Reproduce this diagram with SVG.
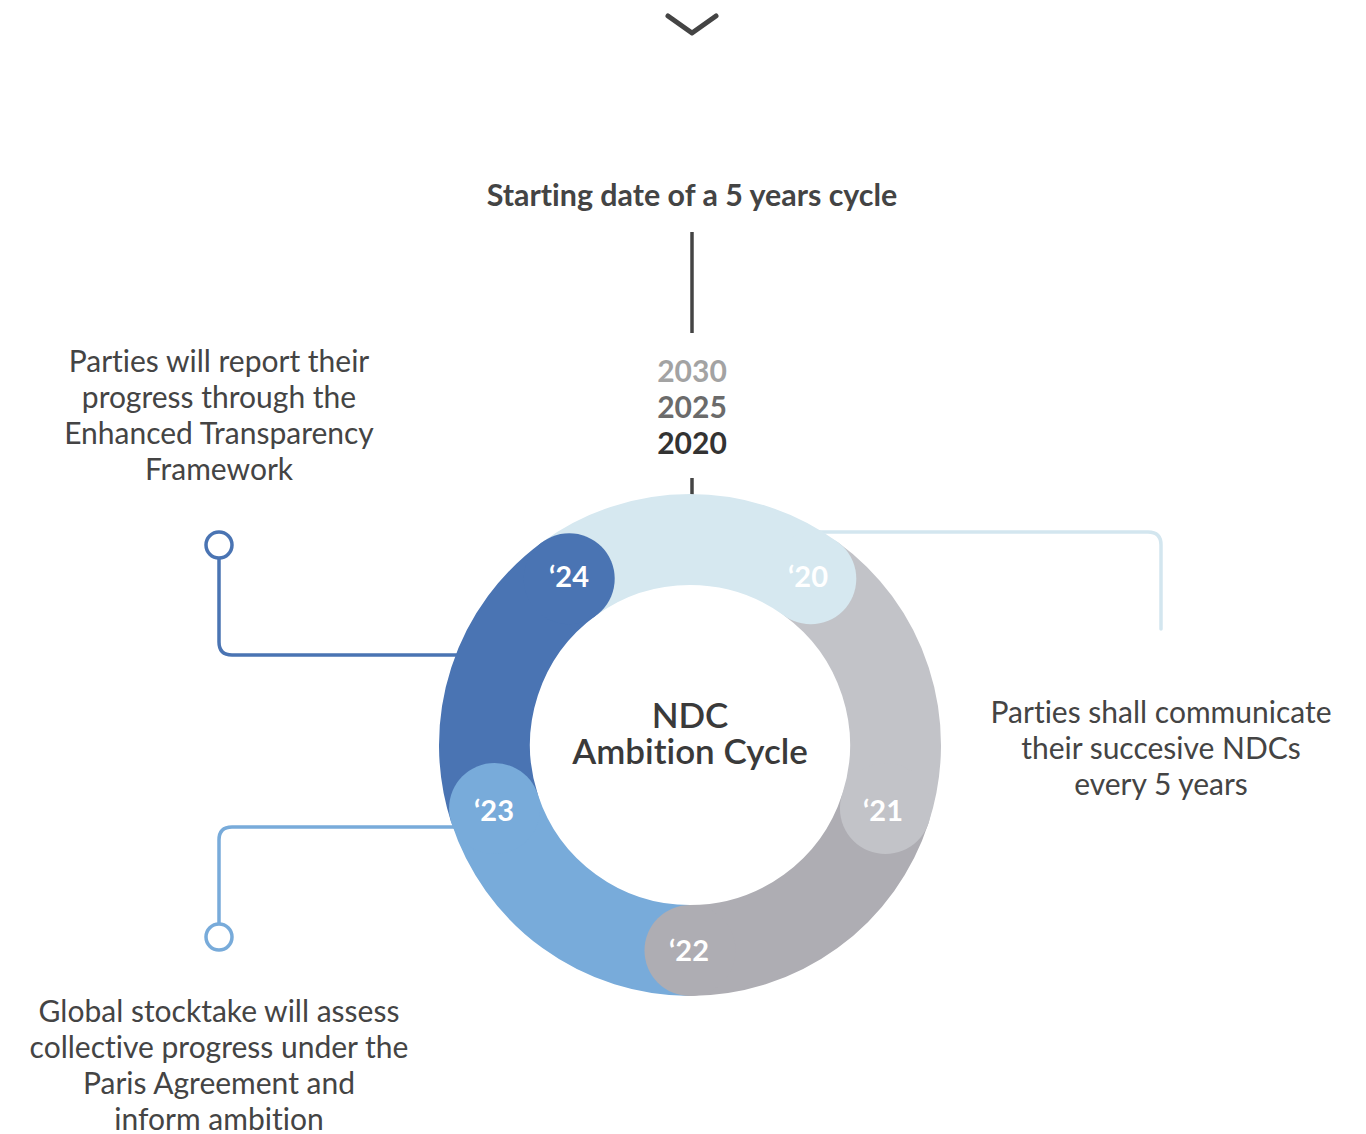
<svg xmlns="http://www.w3.org/2000/svg" width="1366" height="1134" viewBox="0 0 1366 1134">
<style>
text{font-family:Lato,"Open Sans","Liberation Sans",sans-serif;text-anchor:middle;font-variant-ligatures:none;font-feature-settings:"liga" 0,"clig" 0}
.body{font-size:30px;fill:#444}
.title{font-size:30.4px;font-weight:700;fill:#444}
.yr{font-size:30px;font-weight:700}
.lbl{font-size:29px;font-weight:700;fill:#fff}
.ctr{font-size:35px;font-weight:600;fill:#3a3a3a}
.seg{fill:none;stroke-width:91;stroke-linecap:butt}
.con{fill:none;stroke-width:3.5;stroke-linecap:round}
</style>
<rect width="1366" height="1134" fill="#fff"/>
<g id="chevron"><path d="M668,16 L692,33 L716,16" fill="none" stroke="#444" stroke-width="5" stroke-linecap="round" stroke-linejoin="round"/></g>
<g id="title"><text class="title" x="692" y="206">Starting date of a 5 years cycle</text></g>
<g id="connectors">
<line x1="692" y1="232" x2="692" y2="333" stroke="#444" stroke-width="3.5"/>
<line x1="692" y1="478" x2="692" y2="496" stroke="#444" stroke-width="3.5"/>
<path class="con" stroke="#4a74b3" d="M219,558 V642 Q219,655 232,655 H470"/>
<path class="con" stroke="#78abda" d="M470,827 H232 Q219,827 219,840 V924"/>
<path class="con" stroke="#d3e6ef" d="M800,532 H1148 Q1161,532 1161,545 V629"/>
</g>
<g id="years">
<text class="yr" x="692" y="382" fill="#a3a3a3">2030</text>
<text class="yr" x="692" y="418" fill="#6b6b6b">2025</text>
<text class="yr" x="692" y="454" fill="#333">2020</text>
</g>
<g id="ring">
<path class="seg" stroke="#d6e8f0" d="M569.21,578.75 A205.5,205.5 0 0 1 810.79,578.75"/>
<path class="seg" stroke="#c2c3c8" d="M810.79,578.75 A205.5,205.5 0 0 1 885.44,808.5"/>
<path class="seg" stroke="#aeadb3" d="M885.44,808.5 A205.5,205.5 0 0 1 690,950.5"/>
<path class="seg" stroke="#78abda" d="M690,950.5 A205.5,205.5 0 0 1 494.56,808.5"/>
<path class="seg" stroke="#4a74b3" d="M494.56,808.5 A205.5,205.5 0 0 1 569.21,578.75"/>
</g>
<g id="n2020"><circle cx="810.79" cy="578.75" r="45.5" fill="#d6e8f0"/><text class="lbl" x="808" y="587">‘20</text></g>
<g id="n2021"><circle cx="885.44" cy="808.5" r="45.5" fill="#c2c3c8"/><text class="lbl" x="883" y="821">‘21</text></g>
<g id="n2022"><circle cx="690" cy="950.5" r="45.5" fill="#aeadb3"/><text class="lbl" x="689" y="961">‘22</text></g>
<g id="n2023"><circle cx="494.56" cy="808.5" r="45.5" fill="#78abda"/><text class="lbl" x="494" y="821">‘23</text></g>
<g id="n2024"><circle cx="569.21" cy="578.75" r="45.5" fill="#4a74b3"/><text class="lbl" x="569" y="587">‘24</text></g>
<g id="center"><text class="ctr"><tspan x="690" y="728">NDC</tspan><tspan x="690" y="764">Ambition Cycle</tspan></text></g>
<g id="report">
<circle cx="219" cy="545" r="13" fill="#fff" stroke="#4a74b3" stroke-width="3.5"/>
<text class="body" x="219" y="372">Parties will report their</text>
<text class="body" x="219" y="408">progress through the</text>
<text class="body" x="219" y="444">Enhanced Transparency</text>
<text class="body" x="219" y="480">Framework</text>
</g>
<g id="stocktake">
<circle cx="219" cy="937" r="13" fill="#fff" stroke="#78abda" stroke-width="3.5"/>
<text class="body" x="219" y="1022">Global stocktake will assess</text>
<text class="body" x="219" y="1058">collective progress under the</text>
<text class="body" x="219" y="1094">Paris Agreement and</text>
<text class="body" x="219" y="1130">inform ambition</text>
</g>
<g id="communicate">
<text class="body" x="1161" y="723">Parties shall communicate</text>
<text class="body" x="1161" y="759">their succesive NDCs</text>
<text class="body" x="1161" y="795">every 5 years</text>
</g>
</svg>
